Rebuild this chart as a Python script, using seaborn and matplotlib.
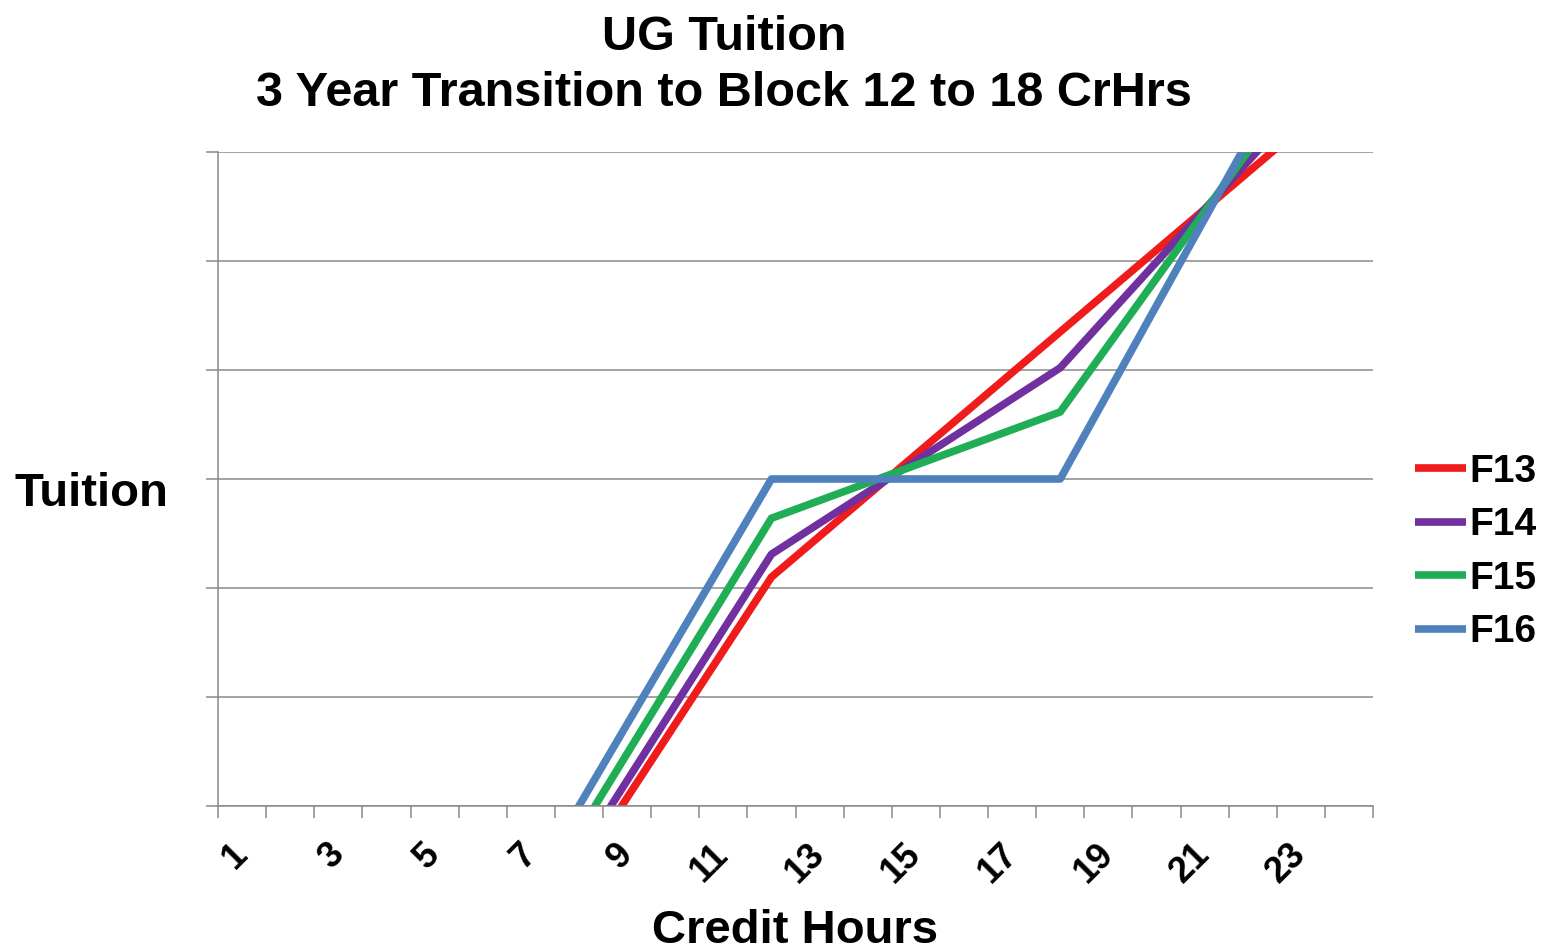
import matplotlib
matplotlib.use("Agg")
import matplotlib.pyplot as plt
import seaborn as sns
import pandas as pd

credit_hours = list(range(1, 25))
tick_labels = [str(h) if h % 2 == 1 else "" for h in credit_hours]

f13 = [270, 540, 810, 1080, 1350, 1620, 1890, 2160, 2430, 2700, 2970, 3240,
       3390, 3540, 3690, 3840, 3990, 4140, 4290, 4440, 4590, 4740, 4890, 5040]
f14 = [277, 554, 831, 1108, 1385, 1662, 1939, 2216, 2493, 2770, 3047, 3324,
       3438, 3552, 3666, 3780, 3894, 4008, 4202, 4396, 4590, 4784, 4978, 5172]
f15 = [288, 576, 864, 1152, 1440, 1728, 2016, 2304, 2592, 2880, 3168, 3456,
       3521, 3586, 3651, 3716, 3781, 3846, 4091, 4336, 4581, 4826, 5071, 5316]
f16 = [300, 600, 900, 1200, 1500, 1800, 2100, 2400, 2700, 3000, 3300, 3600,
       3600, 3600, 3600, 3600, 3600, 3600, 3918, 4236, 4554, 4872, 5190, 5508]

series_names = ["F13", "F14", "F15", "F16"]
series_values = [f13, f14, f15, f16]
colors = {"F13": "#F01C1C", "F14": "#7030A0", "F15": "#1FAE55", "F16": "#4F81BD"}

rows = []
for name, vals in zip(series_names, series_values):
    for h, v in zip(credit_hours, vals):
        rows.append({"Credit Hours": h, "Tuition": v, "Series": name})
df = pd.DataFrame(rows)

sns.set_theme(style="white")
plt.rcParams["font.family"] = ["Liberation Sans", "DejaVu Sans"]
plt.rcParams["font.weight"] = "bold"
plt.rcParams["text.color"] = "black"
plt.rcParams["xtick.color"] = "black"
plt.rcParams["ytick.color"] = "black"

fig = plt.figure(figsize=(15.49, 9.5), dpi=100)
ax = fig.add_axes([218 / 1549, 1 - 806 / 950, (1373 - 218) / 1549, (806 - 152) / 950])

sns.lineplot(data=df, x="Credit Hours", y="Tuition", hue="Series",
             palette=colors, linewidth=5.5, ax=ax, legend=True,
             solid_capstyle="butt")

ax.set_xlim(0.5, 24.5)
ax.set_ylim(2400, 4800)
ax.set_yticks([2400 + 400 * i for i in range(7)])
ax.set_yticklabels([])
ax.yaxis.grid(True, color="#8a8a8a", linewidth=1.1)
ax.xaxis.grid(False)
ax.set_axisbelow(True)

# category boundaries as major ticks, labels at category centres
ax.set_xticks([h - 0.5 for h in credit_hours] + [24.5])
ax.set_xticklabels([])
ax.set_xticks(credit_hours, minor=True)
ax.set_xticklabels(tick_labels, minor=True, rotation=45, ha="right",
                   va="center", rotation_mode="anchor",
                   fontsize=26, fontweight="bold", color="black")
ax.tick_params(axis="x", which="major", direction="out", length=8.5,
               width=1.1, color="#8a8a8a", bottom=True)
ax.tick_params(axis="x", which="minor", length=0, pad=31, bottom=True)
ax.tick_params(axis="y", which="major", direction="out", length=9,
               width=1.1, color="#8a8a8a", left=True)

for side in ["top", "right"]:
    ax.spines[side].set_visible(False)
for side in ["left", "bottom"]:
    ax.spines[side].set_color("#8a8a8a")
    ax.spines[side].set_linewidth(1.1)

ax.set_xlabel("")
ax.set_ylabel("")

fig.text(724 / 1549, 1 - 37 / 950, "UG Tuition", ha="center", va="center",
         fontsize=35, fontweight="bold", color="black")
fig.text(724 / 1549, 1 - 94 / 950, "3 Year Transition to Block 12 to 18 CrHrs",
         ha="center", va="center", fontsize=35, fontweight="bold", color="black")
fig.text(91 / 1549, 1 - 494 / 950, "Tuition", ha="center", va="center",
         fontsize=34, fontweight="bold", color="black")
fig.text(795 / 1549, 1 - 931 / 950, "Credit Hours", ha="center", va="center",
         fontsize=34, fontweight="bold", color="black")

handles, labels = ax.get_legend_handles_labels()
if ax.legend_:
    ax.legend_.remove()
leg = fig.legend(handles, labels, loc="center left",
                 bbox_to_anchor=(1415 / 1549, 1 - 552 / 950),
                 frameon=False, fontsize=28, handlelength=1.3,
                 handletextpad=0.1, labelspacing=0.45, borderpad=0,
                 borderaxespad=0)
for line in leg.get_lines():
    line.set_linewidth(5.5)
for t in leg.get_texts():
    t.set_fontweight("bold")
    t.set_color("black")

fig.savefig("out.png", dpi=100, facecolor="white")
